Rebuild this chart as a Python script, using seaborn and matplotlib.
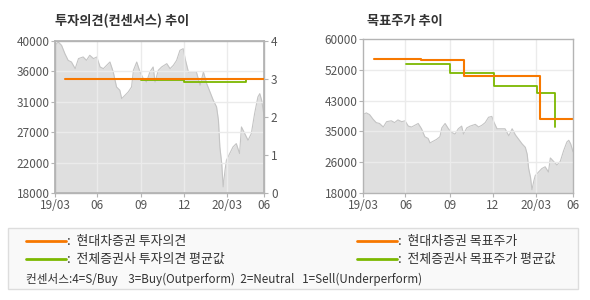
import matplotlib
matplotlib.use("Agg")
import matplotlib.pyplot as plt
from matplotlib.patches import Rectangle
from matplotlib.lines import Line2D
import seaborn as sns
import pandas as pd

sns.set_theme(style="white")
plt.rcParams['font.family'] = ['Noto Sans CJK KR', 'DejaVu Sans']

# ---- data ----
price_dates = ["2019-03-04", "2019-03-11", "2019-03-18", "2019-03-25", "2019-04-01", "2019-04-08",
               "2019-04-16", "2019-04-23", "2019-05-03", "2019-05-10", "2019-05-17", "2019-05-25",
               "2019-06-01", "2019-06-08", "2019-06-15", "2019-06-22", "2019-06-29", "2019-07-06",
               "2019-07-13", "2019-07-20", "2019-07-24", "2019-07-31", "2019-08-07", "2019-08-14",
               "2019-08-18", "2019-08-25", "2019-09-01", "2019-09-08", "2019-09-15", "2019-09-22",
               "2019-09-29", "2019-10-03", "2019-10-10", "2019-10-17", "2019-10-28", "2019-11-04",
               "2019-11-11", "2019-11-18", "2019-11-25", "2019-12-02", "2019-12-06", "2019-12-13",
               "2019-12-20", "2019-12-30", "2020-01-07", "2020-01-14", "2020-01-21", "2020-01-28",
               "2020-02-04", "2020-02-11", "2020-02-15", "2020-02-18", "2020-02-22", "2020-02-25",
               "2020-02-29", "2020-03-03", "2020-03-10", "2020-03-17", "2020-03-24", "2020-03-31",
               "2020-04-04", "2020-04-11", "2020-04-18", "2020-04-25", "2020-05-02", "2020-05-09",
               "2020-05-13", "2020-05-17", "2020-05-22"]
price_values = [39370, 39850, 39370, 38170, 37200, 36960,
                36000, 37450, 37690, 37200, 37930, 37450,
                37690, 36240, 36000, 36480, 36960, 35520,
                33350, 32870, 31660, 32140, 32630, 33350,
                35760, 36960, 35520, 34550, 34070, 35520,
                36240, 34070, 35760, 36240, 36720, 36000,
                36480, 37200, 38650, 38890, 37450, 35520,
                35520, 35520, 33590, 35520, 33830, 32630,
                31420, 30460, 28530, 24670, 22260, 18890,
                21300, 22740, 23710, 24670, 25150, 23710,
                27560, 26600, 25630, 26600, 29490, 31900,
                32380, 31420, 29250]

opinion_dates = ["2019-03-25", "2020-05-21"]
opinion_values = [3, 3]
avg_opinion_dates = ["2019-09-04", "2019-12-04", "2020-04-13"]
avg_opinion_values = [2.965, 2.93, 2.965]

target_dates = ["2019-03-27", "2019-07-05", "2019-10-04", "2020-03-13", "2020-05-21"]
target_values = [54600, 54200, 50000, 38300, 38300]
avg_target_dates = ["2019-06-03", "2019-09-05", "2019-12-06", "2020-03-06", "2020-04-13"]
avg_target_values = [53300, 50600, 47200, 45400, 36100]

tick_dates = ["2019-03-04", "2019-06-02", "2019-09-04", "2019-12-04", "2020-03-05", "2020-05-22"]
tick_labels = ["19/03", "06", "09", "12", "20/03", "06"]

left_yticks = [18000, 22400, 26800, 31200, 35600, 40000]
left_ylabels = ["18000", "22000", "27000", "31000", "36000", "40000"]
right_yticks = [18000, 26400, 34800, 43200, 51600, 60000]
right_ylabels = ["18000", "26000", "35000", "43000", "52000", "60000"]
opinion_ticks = [0, 1, 2, 3, 4]

ORANGE = "#f77800"
GREEN = "#7cb800"
FILL = "#dfdfdf"
EDGE = "#c4c4c4"
SPINE = "#b4b4b4"
TXT = "#555555"

price = pd.DataFrame({"date": pd.to_datetime(price_dates), "price": price_values})
op = pd.DataFrame({"date": pd.to_datetime(opinion_dates), "v": opinion_values})
aop = pd.DataFrame({"date": pd.to_datetime(avg_opinion_dates), "v": avg_opinion_values})
tg = pd.DataFrame({"date": pd.to_datetime(target_dates), "v": target_values})
atg = pd.DataFrame({"date": pd.to_datetime(avg_target_dates), "v": avg_target_values})
tdates = pd.to_datetime(tick_dates)

fig = plt.figure(figsize=(5.9, 3.0), dpi=100)
axL = fig.add_axes([55/590, 1-193/300, 209/590, 152/300])
axR = fig.add_axes([363/590, 1-193/300, 210/590, 154/300])


def style_axis(ax, yticks, ylabels, ylim):
    ax.fill_between(price["date"], price["price"], ylim[0], color=FILL, lw=0, zorder=1)
    sns.lineplot(data=price, x="date", y="price", ax=ax, color=EDGE, lw=0.8, zorder=2)
    ax.set_xlim(tdates[0], tdates[-1])
    ax.set_ylim(*ylim)
    ax.set_yticks(yticks)
    ax.set_yticklabels(ylabels)
    ax.set_xticks(tdates)
    ax.set_xticklabels(tick_labels)
    ax.set_xlabel("")
    ax.set_ylabel("")
    for y in yticks[1:-1]:
        ax.axhline(y, color="#ebebeb", lw=1, zorder=3)
    for x in tdates[1:-1]:
        ax.axvline(x, color="#ebebeb", lw=1, zorder=3)
    for s in ax.spines.values():
        s.set_color(SPINE)
        s.set_linewidth(1)
        s.set_zorder(6)
    ax.tick_params(axis="both", colors=SPINE, labelcolor=TXT, labelsize=8.5,
                   length=3, width=0.8, pad=1, direction="out")
    ax.tick_params(left=True, bottom=True)


style_axis(axL, left_yticks, left_ylabels, (18000, 40000))
style_axis(axR, right_yticks, right_ylabels, (18000, 60000))

# left chart: opinion on twin axis
axL2 = axL.twinx()
axL2.set_ylim(0, 4)
axL2.set_yticks(opinion_ticks)
axL2.set_yticklabels([str(t) for t in opinion_ticks])
sns.lineplot(data=aop, x="date", y="v", ax=axL2, color=GREEN, lw=1.3, drawstyle="steps-post", zorder=4)
sns.lineplot(data=op, x="date", y="v", ax=axL2, color=ORANGE, lw=1.5, zorder=5)
axL2.set_xlim(tdates[0], tdates[-1])
axL2.set_ylabel("")
axL2.set_xlabel("")
for s in axL2.spines.values():
    s.set_color(SPINE)
axL2.tick_params(axis="y", colors=SPINE, labelcolor=TXT, labelsize=8.5, length=3, width=0.8, pad=2)
axL2.grid(False)

# right chart: target prices
sns.lineplot(data=atg, x="date", y="v", ax=axR, color=GREEN, lw=1.3, drawstyle="steps-post", zorder=4)
sns.lineplot(data=tg, x="date", y="v", ax=axR, color=ORANGE, lw=1.5, drawstyle="steps-post", zorder=5)
axR.set_xlabel("")
axR.set_ylabel("")

# titles
fig.text(55/590, 1-21/300, "투자의견(컨센서스) 추이", fontsize=9.5, fontweight="bold",
         color="#333333", ha="left", va="center")
fig.text(367/590, 1-21/300, "목표주가 추이", fontsize=9.5, fontweight="bold",
         color="#333333", ha="left", va="center")

# legend box
fig.patches.append(Rectangle((8/590, 1-289/300), 570/590, 61/300, transform=fig.transFigure,
                             facecolor="#f9f9f9", edgecolor="#dddddd", lw=1, zorder=0))
leg_items = [
    (26, 241, ORANGE, ":  현대차증권 투자의견"),
    (26, 259, GREEN, ":  전체증권사 투자의견 평균값"),
    (357, 241, ORANGE, ":  현대차증권 목표주가"),
    (357, 259, GREEN, ":  전체증권사 목표주가 평균값"),
]
for x0, y0, c, label in leg_items:
    fig.lines.append(Line2D([x0/590, (x0+40)/590], [1-y0/300, 1-y0/300], transform=fig.transFigure,
                            color=c, lw=2.0))
    fig.text((x0+41)/590, 1-y0/300, label, fontsize=9.3, color="#333333", ha="left", va="center")
fig.text(26/590, 1-279/300,
         "컨센서스:4=S/Buy    3=Buy(Outperform)  2=Neutral   1=Sell(Underperform)",
         fontsize=8.4, color="#333333", ha="left", va="center")

fig.savefig("out.png", dpi=100)
